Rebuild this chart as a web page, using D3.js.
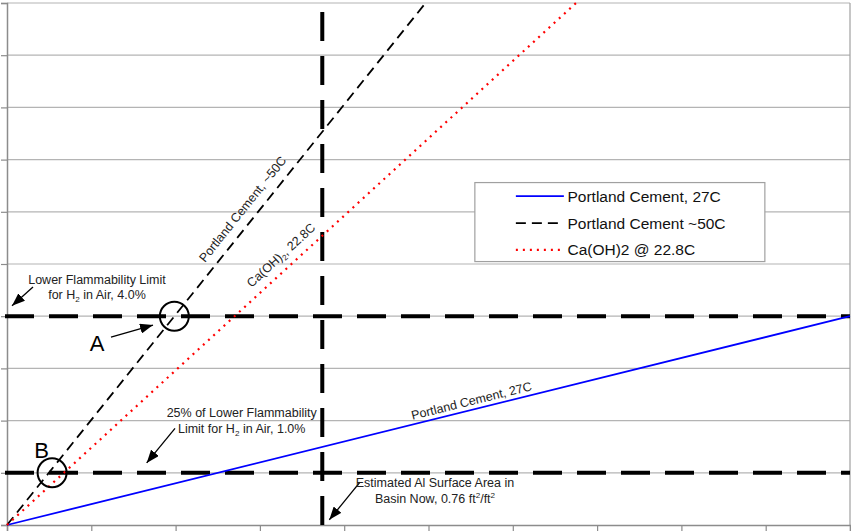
<!DOCTYPE html>
<html><head><meta charset="utf-8">
<script src="https://cdn.jsdelivr.net/npm/d3@7"></script>
<style>
body{margin:0;background:#fff}
svg{display:block;font-family:"Liberation Sans",Arial,Helvetica,sans-serif}
</style>
</head><body>
<svg id="chart" width="851" height="531"></svg>
<script>
// ---------- data ----------
const xTicks = [0, 0.2, 0.4, 0.6, 0.8, 1.0, 1.2, 1.4, 1.6, 1.8, 2.0];
const yTicks = [0, 1, 2, 3, 4, 5, 6, 7, 8, 9, 10];
const seriesNames = ["Portland Cement, 27C", "Portland Cement ~50C", "Ca(OH)2 @ 22.8C"];
const pc27 = [[0, 0], [2.0, 4.0]];
const pc50 = [[0, 0], [0.993, 10.0]];
const caoh = [[0, 0], [1.35, 10.0]];
const lflLevel = 4.0;          // Lower flammability limit, %
const lfl25Level = 1.0;        // 25% of LFL, %
const alNow = 0.748;           // estimated Al surface area (as drawn)
const circleA = [0.397, 4.0];
const circleB = [0.107, 1.0];

// ---------- layout ----------
const W = 851, H = 531;
const x = d3.scaleLinear().domain([0, 2]).range([7, 850]);
const y = d3.scaleLinear().domain([0, 10]).range([525, 3]);
const svg = d3.select("#chart");

// gridlines
svg.append("g").selectAll("line").data(yTicks.filter(d => d > 0)).join("line")
  .attr("x1", x(0)).attr("x2", x(2)).attr("y1", d => y(d)).attr("y2", d => y(d))
  .attr("stroke", "#b4b4b4").attr("stroke-width", 1.2);

// right border
svg.append("line").attr("x1", x(2)).attr("x2", x(2)).attr("y1", y(10)).attr("y2", y(0))
  .attr("stroke", "#a0a0a0").attr("stroke-width", 1.2);

// axes
const xAxis = d3.axisBottom(x).tickValues(xTicks).tickSize(6).tickFormat("");
const yAxis = d3.axisLeft(y).tickValues(yTicks).tickSize(6).tickFormat("");
const gx = svg.append("g").attr("transform", `translate(0,${y(0)})`).call(xAxis);
const gy = svg.append("g").attr("transform", `translate(${x(0)},0)`).call(yAxis);
[gx, gy].forEach(g => {
  g.select(".domain").attr("stroke", "#8c8c8c").attr("stroke-width", 1.5);
  g.selectAll(".tick line").attr("stroke", "#8c8c8c").attr("stroke-width", 1.2);
});

// ---------- reference lines ----------
const refH = [lflLevel, lfl25Level];
svg.append("g").selectAll("line").data(refH).join("line")
  .attr("x1", x(0) - 2).attr("x2", x(2)).attr("y1", d => y(d)).attr("y2", d => y(d))
  .attr("stroke", "#000").attr("stroke-width", 4).attr("stroke-dasharray", "29,15");
svg.append("line")
  .attr("x1", x(alNow)).attr("x2", x(alNow)).attr("y1", y(10)).attr("y2", y(0))
  .attr("stroke", "#000").attr("stroke-width", 4)
  .attr("stroke-dasharray", "29,15").attr("stroke-dashoffset", 35);

// ---------- series ----------
const line = d3.line().x(d => x(d[0])).y(d => y(d[1]));
const styles = [
  {data: pc27, color: "#0000ff", w: 1.8, dash: null},
  {data: pc50, color: "#000000", w: 1.8, dash: "10,6"},
  {data: caoh, color: "#ff0000", w: 2.2, dash: "2,5"}
];
styles.forEach(s => {
  svg.append("path").attr("d", line(s.data)).attr("fill", "none")
    .attr("stroke", s.color).attr("stroke-width", s.w)
    .attr("stroke-dasharray", s.dash);
});

// ---------- circles A / B ----------
[circleA, circleB].forEach(c => {
  svg.append("circle").attr("cx", x(c[0])).attr("cy", y(c[1])).attr("r", 14.5)
    .attr("fill", "none").attr("stroke", "#000").attr("stroke-width", 2);
});

// ---------- arrows ----------
const defs = svg.append("defs");
defs.append("marker").attr("id", "ah").attr("markerUnits", "userSpaceOnUse")
  .attr("markerWidth", 14).attr("markerHeight", 10).attr("refX", 13).attr("refY", 5)
  .attr("orient", "auto")
  .append("path").attr("d", "M0,0 L13,5 L0,10 Z").attr("fill", "#000");

const arrows = [
  [[0.0617, 4.56], [0.0119, 4.20]],
  [[0.2467, 3.60], [0.3464, 3.83]],
  [[0.3986, 1.85], [0.3314, 1.19]],
  [[0.8375, 0.82], [0.7647, 0.10]]
];
arrows.forEach(a => {
  svg.append("line").attr("x1", x(a[0][0])).attr("y1", y(a[0][1]))
    .attr("x2", x(a[1][0])).attr("y2", y(a[1][1]))
    .attr("stroke", "#000").attr("stroke-width", 1.3).attr("marker-end", "url(#ah)");
});

// ---------- text annotations ----------
function multi(cx, lines, fs) {
  lines.forEach(L => {
    const t = svg.append("text").attr("x", x(cx)).attr("y", y(L.y))
      .attr("text-anchor", "middle").attr("font-size", fs).attr("fill", "#222");
    L.parts.forEach(p => {
      const ts = t.append("tspan").text(p.t);
      if (p.sub) ts.attr("font-size", fs * 0.65).attr("dy", 3);
      if (p.sup) ts.attr("font-size", fs * 0.65).attr("dy", -5);
      if (p.back) ts.attr("dy", p.back);
    });
  });
}
multi(0.2135, [
  {y: 4.62, parts: [{t: "Lower Flammability Limit"}]},
  {y: 4.33, parts: [{t: "for H"}, {t: "2", sub: true}, {t: " in Air, 4.0%", back: -3}]}
], 12.5);
multi(0.5568, [
  {y: 2.07, parts: [{t: "25% of Lower Flammability"}]},
  {y: 1.76, parts: [{t: "Limit for H"}, {t: "2", sub: true}, {t: " in Air, 1.0%", back: -3}]}
], 12.5);
multi(1.0154, [
  {y: 0.73, parts: [{t: "Estimated Al Surface Area in"}]},
  {y: 0.42, parts: [{t: "Basin Now, 0.76 ft"}, {t: "2", sup: true}, {t: "/ft", back: 5}, {t: "2", sup: true}]}
], 12.5);

// A / B letters
[["A", 0.2135, 3.34], ["B", 0.0823, 1.29]].forEach(l => {
  svg.append("text").attr("x", x(l[1])).attr("y", y(l[2])).attr("text-anchor", "middle")
    .attr("font-size", 22).attr("fill", "#000").text(l[0]);
});

// rotated series labels
function angleOf(data) {
  const p0 = data[0], p1 = data[data.length - 1];
  return Math.atan2(y(p1[1]) - y(p0[1]), x(p1[0]) - x(p0[0])) * 180 / Math.PI;
}
const rot = [
  {data: pc50, pos: [0.567, 6.0], parts: [{t: "Portland Cement, ~50C"}]},
  {data: caoh, pos: [0.657, 5.11], parts: [{t: "Ca(OH)"}, {t: "2", sub: true}, {t: ", 22.8C", back: -3}]},
  {data: pc27, pos: [1.1044, 2.30], parts: [{t: "Portland Cement, 27C"}]}
];
rot.forEach(r => {
  const px = x(r.pos[0]), py = y(r.pos[1]);
  const t = svg.append("text").attr("text-anchor", "middle").attr("font-size", 12.5).attr("fill", "#222")
    .attr("transform", `translate(${px},${py}) rotate(${angleOf(r.data)})`);
  r.parts.forEach(p => {
    const ts = t.append("tspan").text(p.t);
    if (p.sub) ts.attr("font-size", 8).attr("dy", 3);
    if (p.back) ts.attr("dy", p.back);
  });
});

// ---------- legend ----------
const lg = svg.append("g").attr("transform", `translate(${x(1.11)},${y(6.56)})`);
lg.append("rect").attr("x", 0).attr("y", 0).attr("width", 290).attr("height", 79)
  .attr("fill", "#fff").attr("stroke", "#a0a0a0").attr("stroke-width", 1.2);
seriesNames.forEach((name, i) => {
  const s = styles[i];
  const yy = 13.6 + i * 26.9;
  lg.append("line").attr("x1", 41).attr("x2", 89).attr("y1", yy).attr("y2", yy)
    .attr("stroke", s.color).attr("stroke-width", s.w).attr("stroke-dasharray", s.dash);
  lg.append("text").attr("x", 92.6).attr("y", yy + 5.5).attr("font-size", 15.5)
    .attr("fill", "#111").text(name);
});
</script>
</body></html>
